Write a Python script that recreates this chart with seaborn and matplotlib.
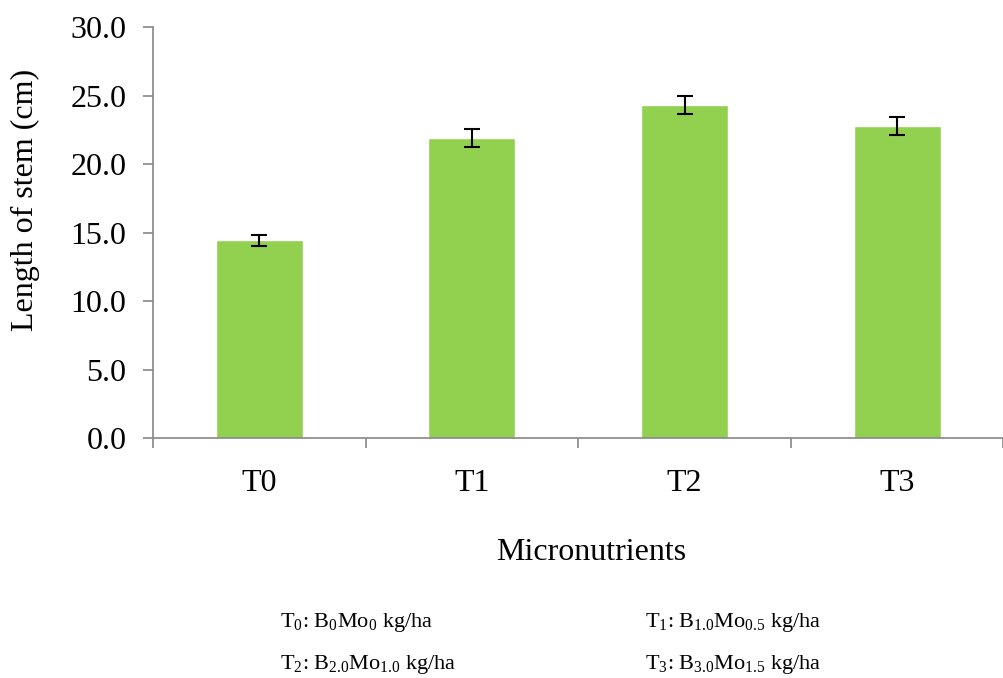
import matplotlib
matplotlib.use("Agg")
import matplotlib.pyplot as plt
import seaborn as sns
import pandas as pd
import numpy as np

categories = ["T0", "T1", "T2", "T3"]
values = [14.45, 21.9, 24.3, 22.8]
errors = [0.4, 0.65, 0.65, 0.65]
yticks = [0.0, 5.0, 10.0, 15.0, 20.0, 25.0, 30.0]
legend_lines = [
    (r"$\mathrm{T_0}$: $\mathrm{B_0Mo_0}$ kg/ha", r"$\mathrm{T_1}$: $\mathrm{B_{1.0}Mo_{0.5}}$ kg/ha"),
    (r"$\mathrm{T_2}$: $\mathrm{B_{2.0}Mo_{1.0}}$ kg/ha", r"$\mathrm{T_3}$: $\mathrm{B_{3.0}Mo_{1.5}}$ kg/ha"),
]

sns.set_style("white")
plt.rcParams["font.family"] = ["Liberation Serif", "DejaVu Serif"]
plt.rcParams["mathtext.fontset"] = "custom"
plt.rcParams["mathtext.rm"] = "Liberation Serif"
plt.rcParams["mathtext.it"] = "Liberation Serif:italic"
plt.rcParams["mathtext.bf"] = "Liberation Serif:bold"
plt.rcParams["text.color"] = "black"
plt.rcParams["axes.labelcolor"] = "black"

df = pd.DataFrame({"cat": categories, "val": values})

fig = plt.figure(figsize=(10.04, 6.78), dpi=100)
ax = fig.add_axes([0.1524, 0.354, 0.847, 0.606])
sns.barplot(data=df, x="cat", y="val", color="#92D050", saturation=1, width=0.41, ax=ax, errorbar=None)
ax.errorbar(np.arange(len(categories)), values, yerr=errors, fmt="none", ecolor="black",
            elinewidth=1.5, capsize=6, capthick=1.5)

ax.set_xlim(-0.5, 3.5)
ax.set_ylim(0, 30)
ax.set_yticks(yticks)
ax.set_yticklabels([f"{v:.1f}" for v in yticks], fontsize=23)
ax.set_xticks(range(len(categories)))
ax.set_xticklabels(categories, fontsize=23)
ax.set_xticks(np.arange(-0.5, 3.6, 1.0), minor=True)
ax.tick_params(axis="x", which="major", length=0, pad=22, bottom=False, labelcolor="black")
ax.tick_params(axis="x", which="minor", length=7, color="#868686", width=1.2, direction="out", bottom=True)
ax.tick_params(axis="y", which="major", length=7, color="#868686", width=1.2, direction="out", pad=12,
               left=True, labelcolor="black")
for s in ["top", "right"]:
    ax.spines[s].set_visible(False)
for s in ["left", "bottom"]:
    ax.spines[s].set_color("#868686")
    ax.spines[s].set_linewidth(1.2)
ax.set_xlabel("Micronutrients", fontsize=23, color="black")
ax.set_ylabel("Length of stem (cm)", fontsize=23, color="black")
ax.xaxis.set_label_coords((591 - 153) / 850, -(553 - 438) / 411, transform=ax.transAxes)
ax.xaxis.label.set_va("center")
ax.yaxis.set_label_coords(25 / 1004, 1 - 200 / 678, transform=fig.transFigure)
ax.yaxis.label.set_va("center")

for i, (a, b) in enumerate(legend_lines):
    y = 1 - (622 + i * 42) / 678
    fig.text(280 / 1004, y, a, fontsize=16, va="center", ha="left", color="black")
    fig.text(645 / 1004, y, b, fontsize=16, va="center", ha="left", color="black")

fig.savefig("out.png", dpi=100)
